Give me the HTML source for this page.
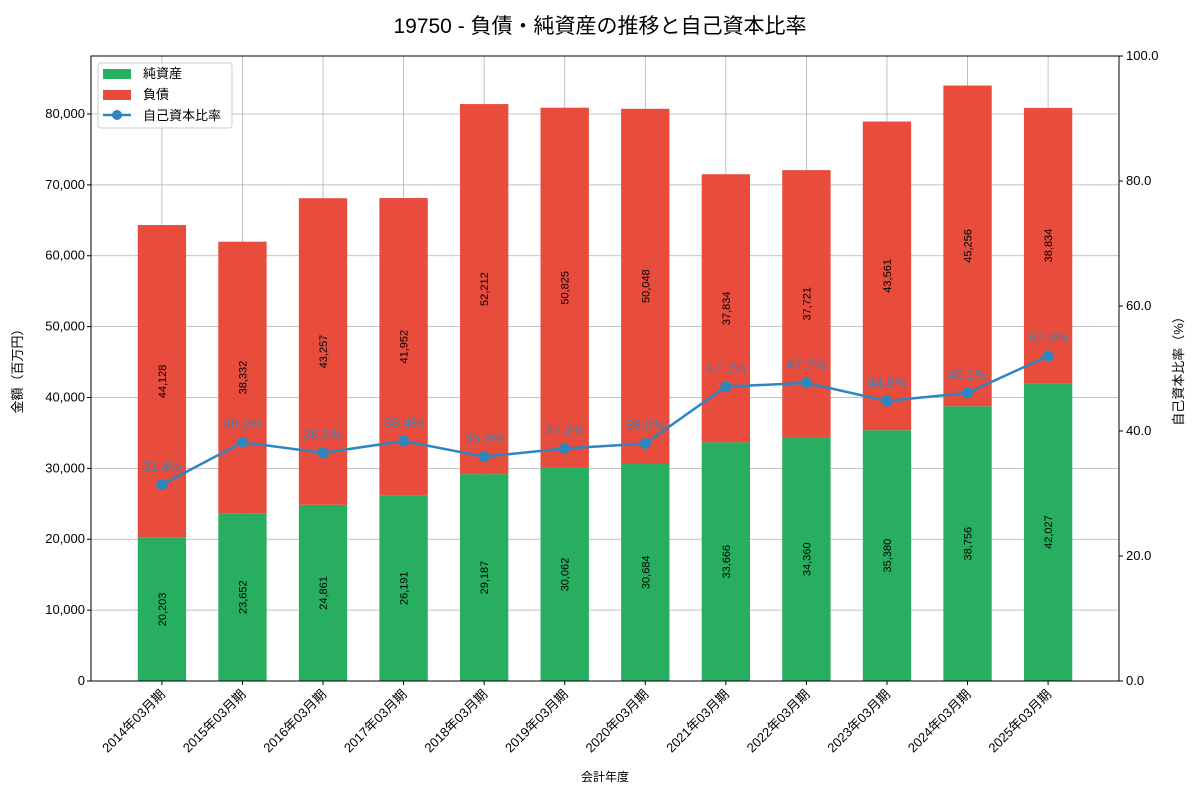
<!DOCTYPE html>
<html><head><meta charset="utf-8"><style>
body{margin:0;background:#fff;}
svg{font-family:"Liberation Sans","Noto Sans CJK JP",sans-serif;}
</style></head><body>
<svg id="chart" width="1200" height="800" xmlns="http://www.w3.org/2000/svg">
<text x="600" y="33" text-anchor="middle" font-size="21" fill="#000">19750 - 負債・純資産の推移と自己資本比率</text>
<g id="grid"></g>
<g id="bars"></g>
<g id="line"></g>
<g id="axes"></g>
<text x="22" y="368" transform="rotate(-90 22 368)" text-anchor="middle" font-size="13">金額（百万円）</text>
<text x="1183" y="368" transform="rotate(-90 1183 368)" text-anchor="middle" font-size="13">自己資本比率（%）</text>
<text x="605" y="781" text-anchor="middle" font-size="12">会計年度</text>
<g>
<rect x="98" y="63" width="134" height="65" fill="#fff" fill-opacity="0.85" stroke="#ccc" rx="3"/>
<rect x="103" y="69" width="28" height="10" fill="#27ae60"/>
<text x="143" y="78" font-size="13">純資産</text>
<rect x="103" y="90" width="28" height="10" fill="#e74c3c"/>
<text x="143" y="99" font-size="13">負債</text>
<line x1="103" y1="115" x2="131" y2="115" stroke="#2e86c1" stroke-width="2.5"/>
<circle cx="117" cy="115" r="5" fill="#2e86c1"/>
<text x="143" y="120" font-size="13">自己資本比率</text>
</g>
</svg>
<script>
const categories=["2014年03月期","2015年03月期","2016年03月期","2017年03月期","2018年03月期","2019年03月期","2020年03月期","2021年03月期","2022年03月期","2023年03月期","2024年03月期","2025年03月期"];
const equity=[20203,23652,24861,26191,29187,30062,30684,33666,34360,35380,38756,42027];
const liabilities=[44128,38332,43257,41952,52212,50825,50048,37834,37721,43561,45256,38834];
const ratio=[31.4,38.2,36.5,38.4,35.9,37.2,38.0,47.1,47.7,44.8,46.1,52.0];
const yTicks=[0,10000,20000,30000,40000,50000,60000,70000,80000];
const y2Ticks=[0,20,40,60,80,100];
const NS="http://www.w3.org/2000/svg";
const L=91,R=1119,T=56,B=681;
const yMax=88183,y2Max=100;
const x=i=>L+(i+0.88)*(R-L)/12.76;
const y=v=>B-v/yMax*(B-T);
const y2=v=>B-v/y2Max*(B-T);
const bw=0.6*(R-L)/12.76;
function mk(tag,attrs,parent,txt){const e=document.createElementNS(NS,tag);for(const k in attrs)e.setAttribute(k,attrs[k]);if(txt!==undefined)e.textContent=txt;parent.appendChild(e);return e;}
const fmt=v=>v.toLocaleString('en-US');
const grid=document.getElementById('grid'),bars=document.getElementById('bars'),line=document.getElementById('line'),axes=document.getElementById('axes');
yTicks.forEach(t=>{const g=mk('line',{x1:L,x2:R,y1:y(t),y2:y(t),stroke:'#b0b0b0','stroke-width':0.8},grid);

const tl=mk('text',{x:L-6,y:y(t)+4,'text-anchor':'end','font-size':13},axes,fmt(t));

mk('line',{x1:L-4,x2:L,y1:y(t),y2:y(t),stroke:'#000'},axes);});
y2Ticks.forEach(t=>{const tl=mk('text',{x:R+7,y:y2(t)+4,'font-size':13},axes,t.toFixed(1));

mk('line',{x1:R,x2:R+4,y1:y2(t),y2:y2(t),stroke:'#000'},axes);});
categories.forEach((c,i)=>{const cx=x(i);
const g=mk('line',{x1:cx,x2:cx,y1:T,y2:B,stroke:'#b0b0b0','stroke-width':0.8},grid);

const e=mk('rect',{x:cx-bw/2,y:y(equity[i]),width:bw,height:B-y(equity[i]),fill:'#27ae60'},bars);

const top=equity[i]+liabilities[i];
const l=mk('rect',{x:cx-bw/2,y:y(top),width:bw,height:y(equity[i])-y(top),fill:'#e74c3c'},bars);

const ey=y(equity[i]/2);
const et=mk('text',{x:cx,y:ey,'font-size':11,'text-anchor':'middle',transform:`rotate(-90 ${cx} ${ey}) translate(0 4)`},bars,fmt(equity[i]));

const ly=y(equity[i]+liabilities[i]/2);
const lt=mk('text',{x:cx,y:ly,'font-size':11,'text-anchor':'middle',transform:`rotate(-90 ${cx} ${ly}) translate(0 4)`},bars,fmt(liabilities[i]));

mk('line',{x1:cx,x2:cx,y1:B,y2:B+4,stroke:'#000'},axes);
const xl=mk('text',{x:cx+4,y:B+14,'font-size':13,'text-anchor':'end',transform:`rotate(-45 ${cx+4} ${B+14})`},axes,c);

});
const pl=mk('polyline',{points:ratio.map((r,i)=>x(i)+','+y2(r)).join(' '),fill:'none',stroke:'#2e86c1','stroke-width':2.5},line);

ratio.forEach((r,i)=>{const c=mk('circle',{cx:x(i),cy:y2(r),r:5.5,fill:'#2e86c1'},line);

const t=mk('text',{x:x(i),y:y2(r)-14,'text-anchor':'middle','font-size':14,fill:'#2e86c1','fill-opacity':0.85},line,r.toFixed(1)+'%');
});
const fr=mk('rect',{x:L,y:T,width:R-L,height:B-T,fill:'none',stroke:'#000','stroke-width':1},axes);

</script>
</body></html>
